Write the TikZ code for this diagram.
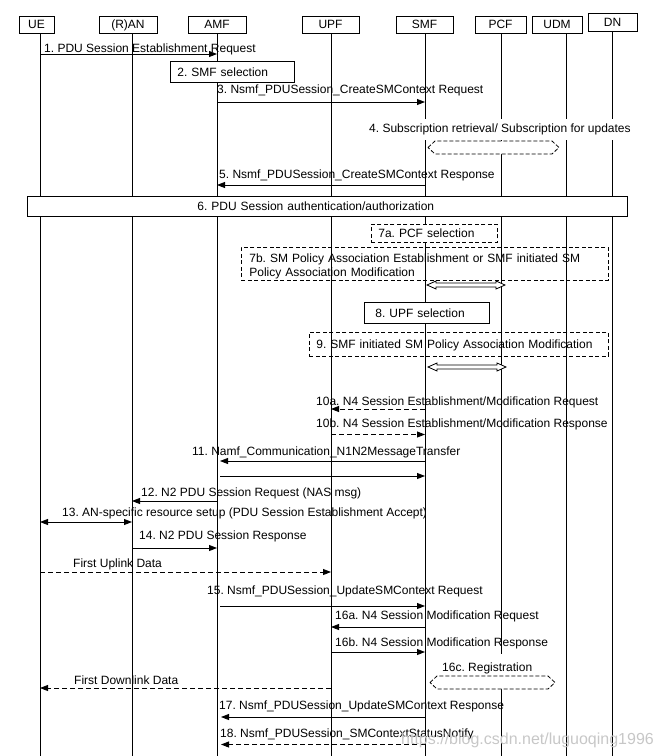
\documentclass[tikz,border=0pt]{standalone}
\usepackage{fontspec}
\setmainfont{Liberation Sans}
\usetikzlibrary{arrows.meta}
\frenchspacing

\tikzset{
  every node/.style={font=\fontsize{12}{14}\selectfont},
  head/.style={draw, line width=0.8pt, inner sep=0pt, minimum height=17pt, text height=8.7pt, text depth=0pt},
  life/.style={line width=0.7pt},
  msg/.style={line width=0.9pt, -{Triangle[length=8pt,width=6pt]}},
  dmsg/.style={msg, dash pattern=on 5pt off 3pt},
  lbl/.style={anchor=base west, inner sep=0pt},
  frame/.style={draw, line width=0.8pt, anchor=north west, inner ysep=0pt, align=left},
  box/.style={frame, text height=8.7pt, text depth=0pt},
  dashbox/.style={dash pattern=on 4pt off 2.5pt},
  hollow/.style={line width=0.8pt, fill=white},
}

\begin{document}
\begin{tikzpicture}[x=1pt, y=-1pt]
\useasboundingbox (0,0) rectangle (659,756);

% network functions
\node[head, minimum width=35pt] (ue) at (36.5,24.5) {UE};
\node[head, minimum width=58pt] (ran) at (128,24.5) {(R)AN};
\node[head, minimum width=58pt] (amf) at (217,24.5) {AMF};
\node[head, minimum width=57pt] (upf) at (330.5,24.5) {UPF};
\node[head, minimum width=57pt] (smf) at (424.5,24.5) {SMF};
\node[head, minimum width=51pt] (pcf) at (500.5,24.5) {PCF};
\node[head, minimum width=50pt] (udm) at (557,24.5) {UDM};
\node[head, minimum width=49pt, minimum height=18pt] (dn) at (612.5,22) {DN};

% lifelines
\coordinate (xUE) at (40,0);
\coordinate (xRAN) at (132,0);
\coordinate (xAMF) at (217,0);
\coordinate (xUPF) at (331,0);
\coordinate (xSMF) at (425,0);
\coordinate (xPCF) at (501,0);
\coordinate (xUDM) at (566,0);
\coordinate (xDN) at (612,0);
\coordinate (bot) at (0,756);
\draw[life] (ue.south -| xUE) -- (xUE |- bot);
\draw[life] (ran.south -| xRAN) -- (xRAN |- bot);
\draw[life] (amf.south -| xAMF) -- (xAMF |- bot);
\draw[life] (upf.south -| xUPF) -- (xUPF |- bot);
\draw[life] (smf.south -| xSMF) -- (xSMF |- bot);
\draw[life] (pcf.south -| xPCF) -- (xPCF |- bot);
\draw[life] (udm.south -| xUDM) -- (xUDM |- bot);
\draw[life] (dn.south -| xDN) -- (xDN |- bot);

% boxes
\node[box, fill=white, minimum width=124pt, minimum height=21pt, inner xsep=7pt, text width=110pt] (b2) at (170,61) {2. SMF selection};
\node[box, fill=white, minimum width=600pt, minimum height=20pt, inner xsep=170pt, text width=260pt] (b6) at (27,196) {6. PDU Session authentication/authorization};
\node[box, dashbox, fill=white, minimum width=126pt, minimum height=18pt, inner xsep=7pt, text width=112pt] (b7a) at (371,224) {7a. PCF selection};
\node[frame, dashbox, minimum width=367pt, minimum height=33pt, inner xsep=8pt, text width=351pt] (b7b) at (241,247) {\rule{0pt}{13.5pt}7b. SM Policy Association Establishment or SMF initiated SM\\Policy Association Modification};
\node[box, fill=white, minimum width=125pt, minimum height=21pt, inner xsep=11pt, text width=103pt] (b8) at (364,302) {8. UPF selection};
\node[box, dashbox, minimum width=299pt, minimum height=24pt, inner xsep=7pt, text width=285pt] (b9) at (309,332) {9. SMF initiated SM Policy Association Modification};

% messages
\draw[msg] ([yshift=-54pt]xUE) -- ([yshift=-54pt]xAMF);
\node[lbl] (t1) at (44,52.5) {1. PDU Session Establishment Request};
\draw[msg] ([yshift=-102pt]xAMF) -- ([yshift=-102pt]xSMF);
\node[lbl] (t3) at (217,93.5) {3. Nsmf\_PDUSession\_CreateSMContext Request};
\node[lbl, fill=white, inner xsep=1pt, inner ysep=5pt] (t4) at (368,132.5) {4. Subscription retrieval/ Subscription for updates};
\draw[hollow, dash pattern=on 4pt off 2pt] (428,147.5) -- (435,141) -- (552,141) -- (559,147.5) -- (552,154) -- (435,154) -- cycle;
\draw[msg] ([yshift=-185pt]xSMF) -- ([yshift=-185pt]xAMF);
\node[lbl] (t5) at (219,178.5) {5. Nsmf\_PDUSession\_CreateSMContext Response};

\draw[hollow] (427,285) -- (436,281) -- (436,283) -- (496,283) -- (496,281) -- (505,285) -- (496,289) -- (496,287) -- (436,287) -- (436,289) -- cycle;
\draw[hollow] (428,367) -- (437,363) -- (437,365) -- (497,365) -- (497,363) -- (506,367) -- (497,371) -- (497,369) -- (437,369) -- (437,371) -- cycle;

\draw[dmsg] ([yshift=-409pt]xSMF) -- ([yshift=-409pt]xUPF);
\node[lbl] (t10a) at (316,405.5) {10a. N4 Session Establishment/Modification Request};
\draw[dmsg] ([yshift=-434.5pt]xUPF) -- ([yshift=-434.5pt]xSMF);
\node[lbl] (t10b) at (316,427.5) {10b. N4 Session Establishment/Modification Response};

\draw[msg] ([yshift=-461pt]xSMF) -- ([xshift=3pt,yshift=-461pt]xAMF);
\node[lbl] (t11) at (192,455.5) {11. Namf\_Communication\_N1N2MessageTransfer};
\draw[msg] ([xshift=3pt,yshift=-476pt]xAMF) -- ([yshift=-476pt]xSMF);

\draw[msg] ([yshift=-501pt]xAMF) -- ([yshift=-501pt]xRAN);
\node[lbl] (t12) at (141,496.5) {12. N2 PDU Session Request (NAS msg)};
\draw[msg, {Triangle[length=8pt,width=6pt]}-{Triangle[length=8pt,width=6pt]}] ([yshift=-522pt]xUE) -- ([yshift=-522pt]xRAN);
\node[lbl] (t13) at (62,516.5) {13. AN-specific resource setup (PDU Session Establishment Accept)};
\draw[msg] ([yshift=-548pt]xRAN) -- ([yshift=-548pt]xAMF);
\node[lbl] (t14) at (139,539.5) {14. N2 PDU Session Response};

\draw[dmsg] ([yshift=-572pt]xUE) -- ([yshift=-572pt]xUPF);
\node[lbl] (tul) at (73,567.5) {First Uplink Data};

\draw[msg] ([xshift=3pt,yshift=-606pt]xAMF) -- ([yshift=-606pt]xSMF);
\node[lbl] (t15) at (207,594.5) {15. Nsmf\_PDUSession\_UpdateSMContext Request};
\draw[msg] ([yshift=-627pt]xSMF) -- ([yshift=-627pt]xUPF);
\node[lbl] (t16a) at (335,619.5) {16a. N4 Session Modification Request};
\draw[msg] ([yshift=-652pt]xUPF) -- ([yshift=-652pt]xSMF);
\node[lbl] (t16b) at (335,646) {16b. N4 Session Modification Response};
\node[lbl, fill=white, inner xsep=1pt, inner ysep=9pt] (t16c) at (441,671.5) {16c. Registration};
\draw[hollow, dash pattern=on 4pt off 2pt] (430,682.5) -- (437,676) -- (548,676) -- (555,682.5) -- (548,689) -- (437,689) -- cycle;

\draw[dmsg] ([yshift=-688pt]xUPF) -- ([yshift=-688pt]xUE);
\node[lbl] (tdl) at (74,684.5) {First Downlink Data};

\draw[msg] ([yshift=-717pt]xSMF) -- ([xshift=4pt,yshift=-717pt]xAMF);
\node[lbl] (t17) at (219,709.5) {17. Nsmf\_PDUSession\_UpdateSMContext Response};
\draw[dmsg] ([yshift=-744.5pt]xSMF) -- ([xshift=4pt,yshift=-744.5pt]xAMF);
\node[lbl] (t18) at (220,737.5) {18. Nsmf\_PDUSession\_SMContextStatusNotify};

\node[lbl, text=black!22, font=\fontsize{16}{18}\selectfont] (wm) at (401,744) {https://blog.csdn.net/luguoqing1996};
\end{tikzpicture}
\end{document}
